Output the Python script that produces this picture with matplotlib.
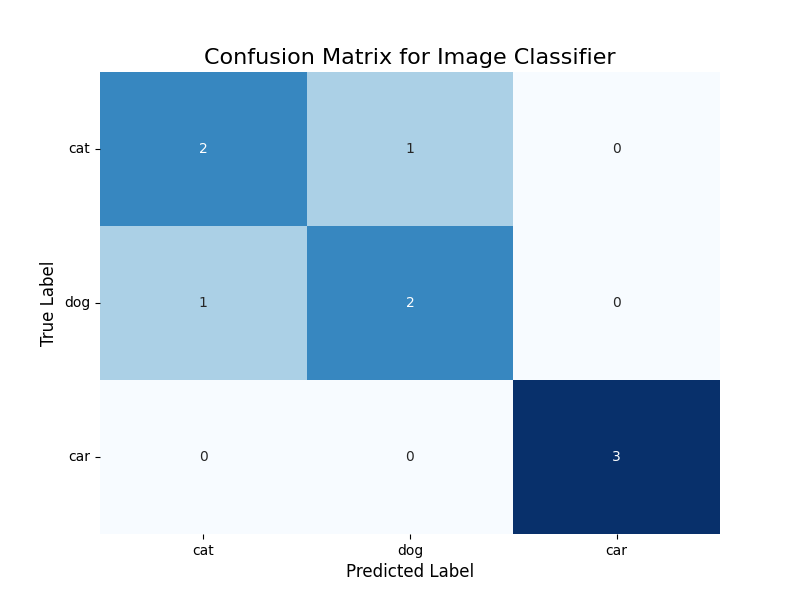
import numpy as np
import matplotlib
matplotlib.use("Agg")
import matplotlib.pyplot as plt
import seaborn as sns

labels = ["cat", "dog", "car"]
cm = np.array([[2, 1, 0],
               [1, 2, 0],
               [0, 0, 3]])

plt.figure(figsize=(8, 6))
sns.heatmap(cm, annot=True, fmt="d", cmap="Blues", cbar=False,
            xticklabels=labels, yticklabels=labels)
plt.yticks(rotation=0)
plt.title("Confusion Matrix for Image Classifier", fontsize=16)
plt.xlabel("Predicted Label", fontsize=12)
plt.ylabel("True Label", fontsize=12)
plt.savefig("out.png", dpi=100)
